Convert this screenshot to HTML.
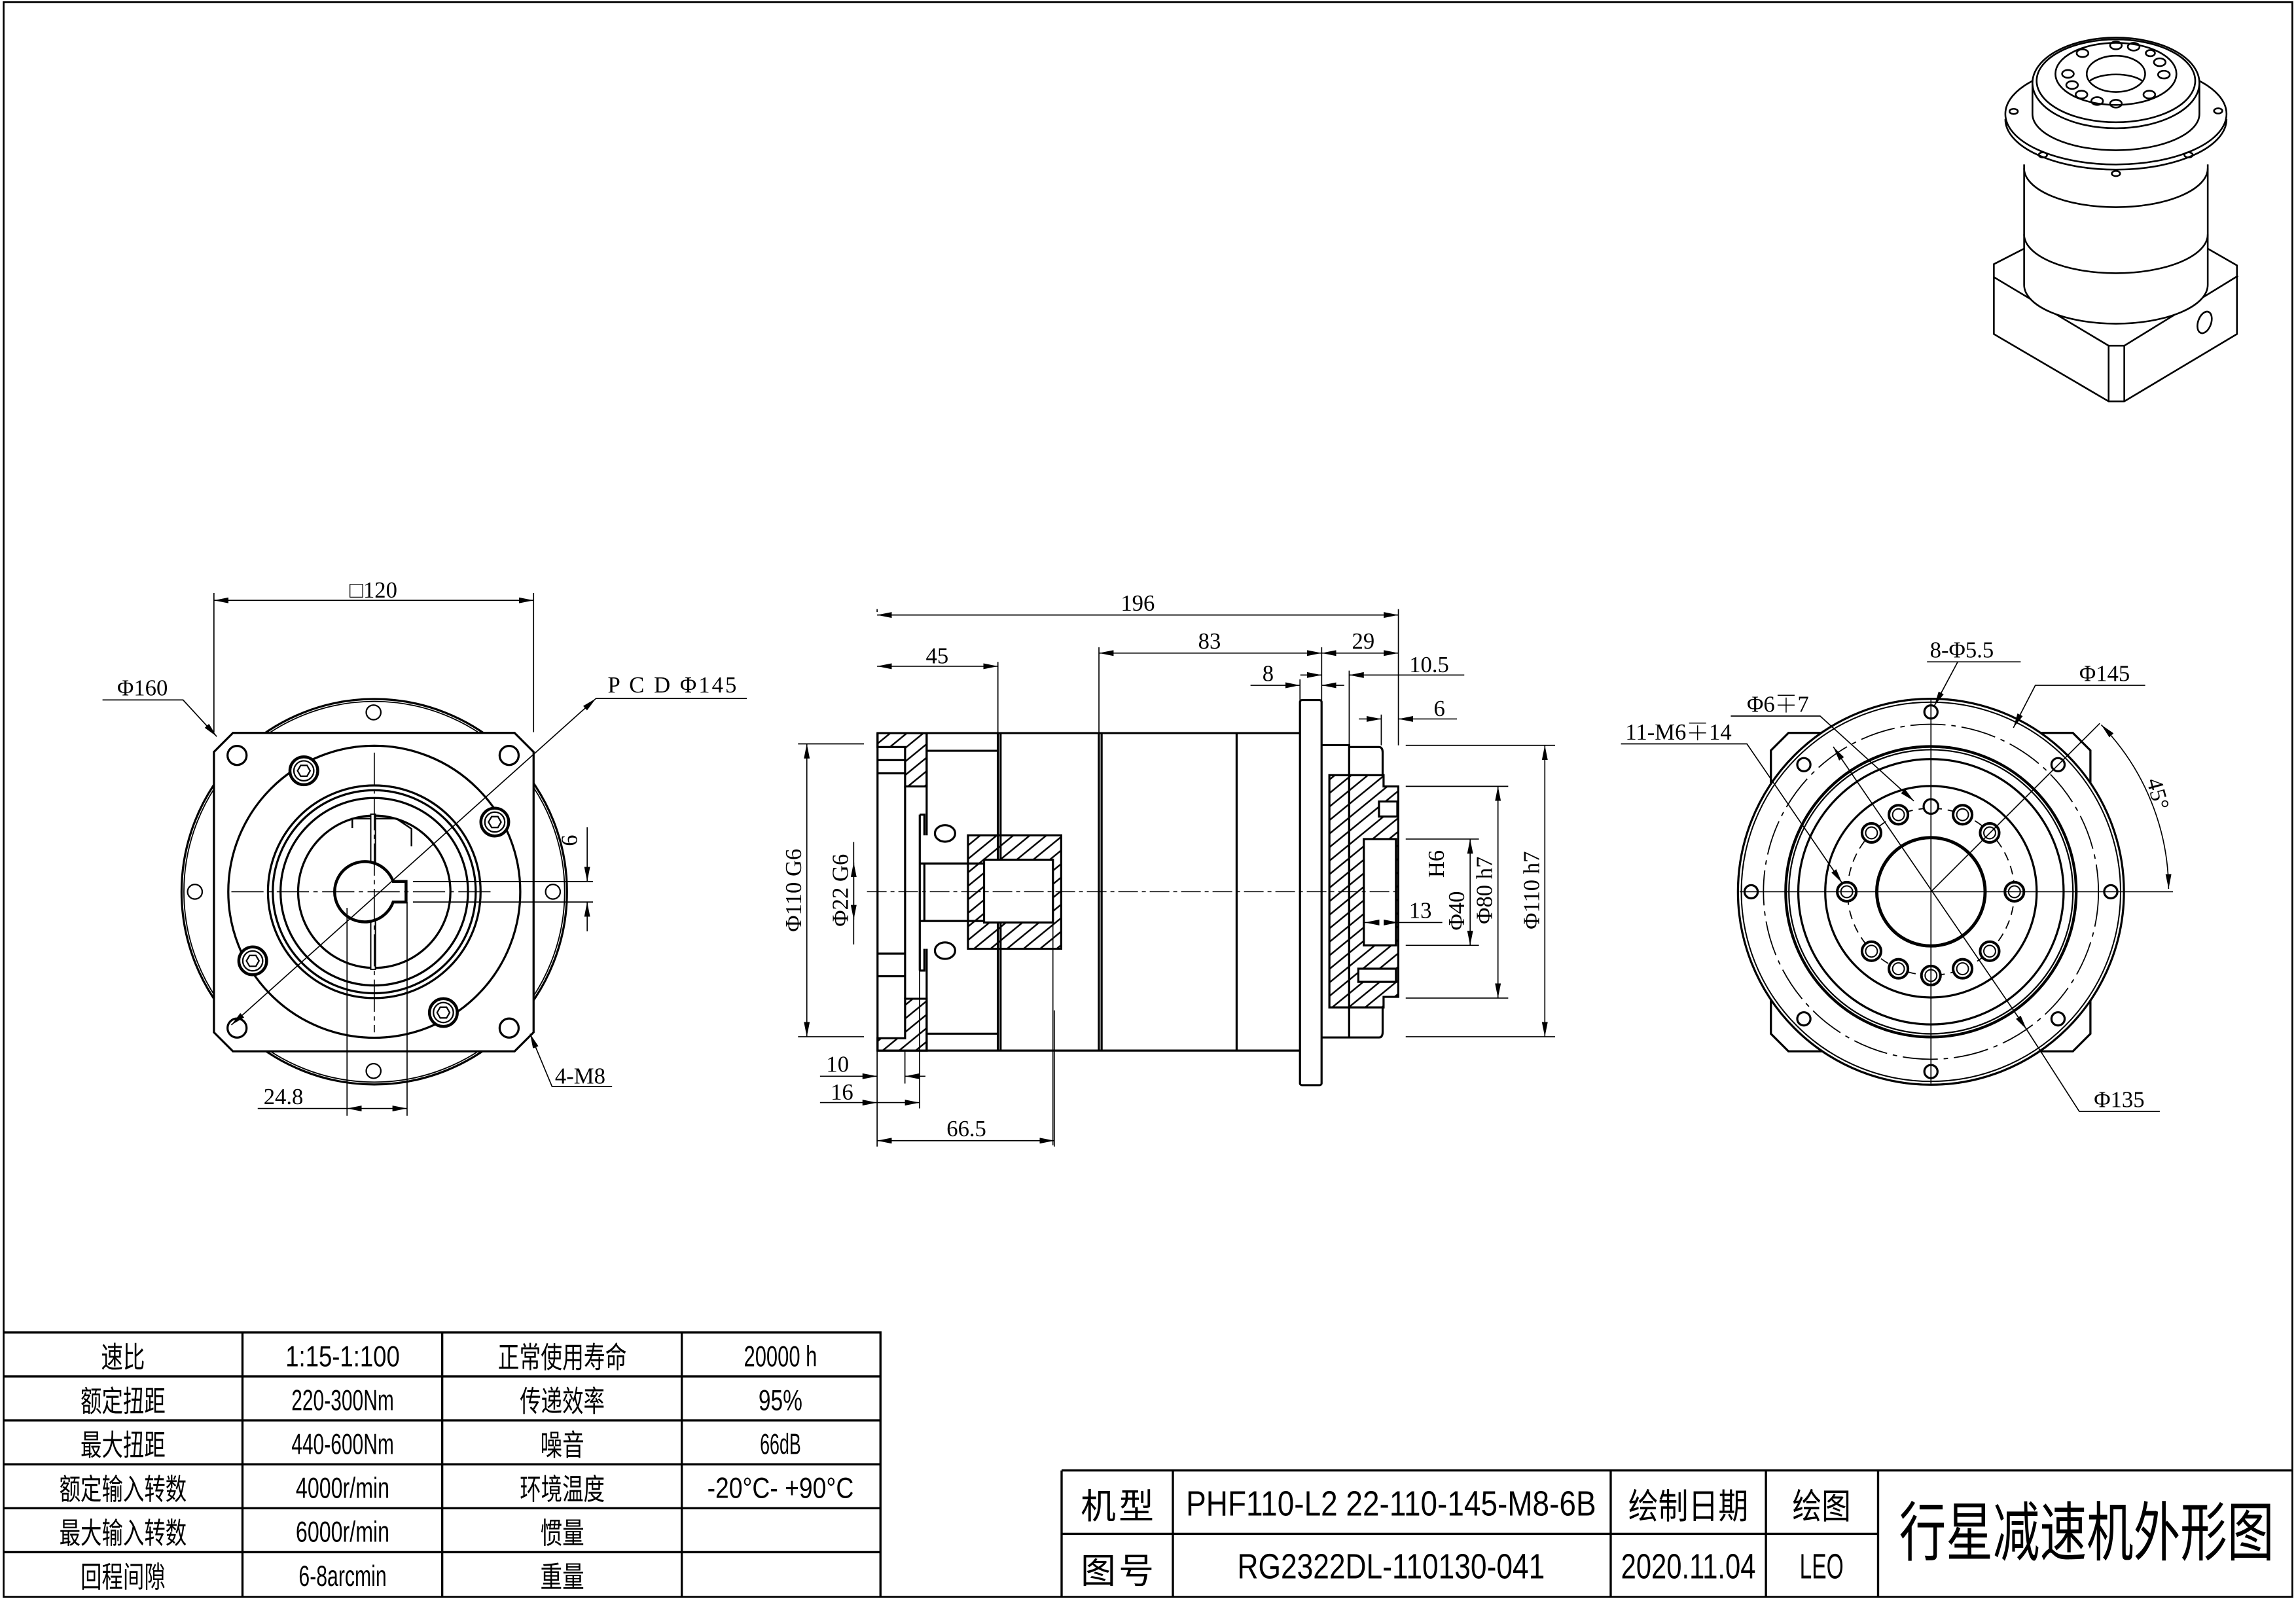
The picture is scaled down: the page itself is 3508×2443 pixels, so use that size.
<!DOCTYPE html>
<html><head><meta charset="utf-8"><style>html,body{margin:0;padding:0;background:#fff}svg{display:block}</style></head>
<body>
<svg xmlns="http://www.w3.org/2000/svg" width="3508" height="2443" viewBox="0 0 1568 1092" preserveAspectRatio="none" font-family="'Liberation Serif','Noto Serif CJK SC',serif">
<defs>
<marker id="ar" viewBox="0 0 10 4" refX="10" refY="2" markerWidth="10" markerHeight="4" markerUnits="userSpaceOnUse" orient="auto-start-reverse"><path d="M0,0L10,2L0,4Z" fill="#000"/></marker>
<pattern id="h" patternUnits="userSpaceOnUse" width="36" height="36"><path d="M-4,40L40,-4M-4,4L4,-4M32,40L40,32" stroke="#000" stroke-width="4"/></pattern>
</defs>
<rect width="1568" height="1092" fill="#fff"/>
<g fill="none" stroke="#000" stroke-width="1.1">
<path d="M2.5,1.5V1090.5H1565.5V1.5Z" stroke-width="1.2"/>

<!-- LEFT VIEW -->
<g stroke-width="1.45">
<circle cx="255.6" cy="609" r="131.6"/><circle cx="255.6" cy="609" r="130" stroke-width="0.8"/>
<path d="M159.1,500.5H351.4L364.4,513.5V705L351.4,718H159.1L146.1,705V513.5Z" fill="#fff"/>
<circle cx="255.6" cy="609" r="99.7"/>
<circle cx="255.6" cy="609" r="72.6"/><circle cx="255.6" cy="609" r="69.3"/><circle cx="255.6" cy="609" r="64"/><circle cx="255.6" cy="609" r="52"/>
<path d="M240.6,565.5V559H270.6L281,566V578" stroke-width="1.1"/>
<rect x="253.2" y="556" width="3.2" height="106" fill="#fff" stroke-width="0.9"/>
<path d="M268.5,602A20.6,20.6 0 1 0 268.5,616H277.3V602Z" fill="#fff" stroke-width="2"/>
<g fill="#fff"><circle cx="161.9" cy="515.9" r="6.5"/><circle cx="347.7" cy="515.9" r="6.5"/><circle cx="161.9" cy="702.1" r="6.5"/><circle cx="347.7" cy="702.1" r="6.5"/></g>
<g stroke-width="2" fill="#fff"><circle cx="207.5" cy="526.4" r="9.5"/><circle cx="337.9" cy="561.4" r="9.5"/><circle cx="172.6" cy="656.2" r="9.5"/><circle cx="302.8" cy="691.5" r="9.5"/></g>
<g stroke-width="1"><circle cx="207.5" cy="526.4" r="6.8"/><circle cx="337.9" cy="561.4" r="6.8"/><circle cx="172.6" cy="656.2" r="6.8"/><circle cx="302.8" cy="691.5" r="6.8"/>
<path d="M203.2,526.4l2.15,-3.7h4.3l2.15,3.7l-2.15,3.7h-4.3z"/><path d="M333.6,561.4l2.15,-3.7h4.3l2.15,3.7l-2.15,3.7h-4.3z"/><path d="M168.3,656.2l2.15,-3.7h4.3l2.15,3.7l-2.15,3.7h-4.3z"/><path d="M298.5,691.5l2.15,-3.7h4.3l2.15,3.7l-2.15,3.7h-4.3z"/></g>
<g stroke-width="1"><circle cx="255.1" cy="486.5" r="5"/><circle cx="133.1" cy="609" r="5"/><circle cx="377.6" cy="609" r="5"/><circle cx="255.1" cy="731.4" r="5"/></g>
</g>
<g stroke-width="0.75">
<path d="M158,609H335M255.6,514V705" stroke-dasharray="22,3,3,3"/>
<path d="M282,602H405M282,616H405"/>
<line x1="407" y1="477" x2="510" y2="477"/><line x1="407" y1="477" x2="158" y2="700" marker-start="url(#ar)" marker-end="url(#ar)"/>
<path d="M70,478H125L148,503" marker-end="url(#ar)"/>
<path d="M146.1,500V405M364.4,500V405"/><line x1="146.1" y1="410" x2="364.4" y2="410" marker-start="url(#ar)" marker-end="url(#ar)"/>
<line x1="401" y1="565" x2="401" y2="602" marker-end="url(#ar)"/><line x1="401" y1="636" x2="401" y2="616" marker-end="url(#ar)"/>
<path d="M362,706L377,742H418" marker-start="url(#ar)"/>
<path d="M237,620V762M278,616V762"/><line x1="237" y1="757" x2="278" y2="757" marker-start="url(#ar)" marker-end="url(#ar)"/><path d="M176,757H237"/>
</g>

<!-- MIDDLE VIEW -->
<g transform="translate(581.1,393.4) scale(0.3136,0.2566)">
<g stroke-width="3.2">
<path vector-effect="non-scaling-stroke" d="M58,418H978M58,1263H978M58,418V1263M320,418V1263M326,418V1263M540,418V1263M546,418V1263M840,418V1263"/>
<path vector-effect="non-scaling-stroke" d="M58,418H165V560H118V455H58Z" fill="url(#h)"/>
<path vector-effect="non-scaling-stroke" d="M58,1263H165V1125H118V1230H58Z" fill="url(#h)"/>
<path vector-effect="non-scaling-stroke" d="M165,418V690M165,992V1263M58,490H118M58,525H118M58,1005H118M58,1065H118M118,560V1125M150,635V1050M150,635H160V690M150,1050H160V992M165,465H320M165,1218H320"/>
<path vector-effect="non-scaling-stroke" d="M255,690H458V992H255Z" fill="url(#h)"/>
<path vector-effect="non-scaling-stroke" d="M290,755H440V922H290Z" fill="#fff"/>
<path vector-effect="non-scaling-stroke" d="M150,765H290M150,918H290M160,765V918"/>
<circle vector-effect="non-scaling-stroke" cx="205" cy="685" r="22" fill="#fff"/><circle vector-effect="non-scaling-stroke" cx="205" cy="997" r="22" fill="#fff"/>
<rect vector-effect="non-scaling-stroke" x="978" y="330" width="47" height="1025" rx="5"/>
<path vector-effect="non-scaling-stroke" d="M1025,450H1085V1228H1025M1085,455H1150Q1158,455 1158,470V530M1085,1228H1150Q1158,1228 1158,1213V1148"/>
<path vector-effect="non-scaling-stroke" d="M1042,530H1160V560H1192V1120H1160V1148H1042Z" fill="url(#h)"/>
<rect vector-effect="non-scaling-stroke" x="1117" y="700" width="70" height="283" fill="#fff"/>
<rect vector-effect="non-scaling-stroke" x="1150" y="600" width="40" height="40" fill="#fff"/>
<rect vector-effect="non-scaling-stroke" x="1105" y="1045" width="82" height="35" fill="#fff"/>
</g>
<g stroke-width="1.5">
<path vector-effect="non-scaling-stroke" d="M35,840H1190" stroke-dasharray="30,6,6,6"/>
<path vector-effect="non-scaling-stroke" d="M440,922V1515"/>
</g>
</g>

<g stroke-width="0.75">
<path d="M599,418V416M599,717V783M681.5,500V452M750.5,500V442M955,509V416M902.6,478V442M887.8,478V464M921.4,509V458M943.3,509V488M720,690V783M618,717V740M628,620V757"/>
<line x1="599" y1="420" x2="955" y2="420" marker-start="url(#ar)" marker-end="url(#ar)"/>
<line x1="599" y1="455" x2="681.5" y2="455" marker-start="url(#ar)" marker-end="url(#ar)"/>
<line x1="750.5" y1="446" x2="902.6" y2="446" marker-start="url(#ar)" marker-end="url(#ar)"/>
<line x1="902.6" y1="446" x2="955" y2="446" marker-start="url(#ar)" marker-end="url(#ar)"/>
<line x1="854" y1="468" x2="887.8" y2="468" marker-end="url(#ar)"/><line x1="918" y1="468" x2="902.6" y2="468" marker-end="url(#ar)"/>
<line x1="1000" y1="461" x2="921.4" y2="461" marker-end="url(#ar)"/><line x1="888" y1="461" x2="902.6" y2="461" marker-end="url(#ar)"/>
<line x1="928" y1="491" x2="943.3" y2="491" marker-end="url(#ar)"/><line x1="995" y1="491" x2="955" y2="491" marker-end="url(#ar)"/>
<path d="M545,508H590M545,708H590"/><line x1="551" y1="508" x2="551" y2="708" marker-start="url(#ar)" marker-end="url(#ar)"/>
<line x1="583" y1="589" x2="583" y2="628" marker-start="url(#ar)" marker-end="url(#ar)"/><path d="M583,575V645"/>
<path d="M960,509H1062M960,708H1062"/><line x1="1055" y1="509" x2="1055" y2="708" marker-start="url(#ar)" marker-end="url(#ar)"/>
<path d="M960,537H1030M960,681.6H1030"/><line x1="1023" y1="537" x2="1023" y2="681.6" marker-start="url(#ar)" marker-end="url(#ar)"/>
<path d="M960,573H1010M960,645.6H1010"/><line x1="1004" y1="573" x2="1004" y2="645.6" marker-start="url(#ar)" marker-end="url(#ar)"/>
<line x1="941" y1="630" x2="932" y2="630" marker-end="url(#ar)"/><line x1="946" y1="630" x2="955" y2="630" marker-end="url(#ar)"/><path d="M955,630H985"/>
<line x1="560" y1="735" x2="599" y2="735" marker-end="url(#ar)"/><line x1="632" y1="735" x2="618" y2="735" marker-end="url(#ar)"/>
<line x1="560" y1="753" x2="599" y2="753" marker-end="url(#ar)"/><line x1="599" y1="753" x2="628" y2="753" marker-end="url(#ar)"/>
<line x1="599" y1="779" x2="720" y2="779" marker-start="url(#ar)" marker-end="url(#ar)"/>
</g>

<!-- RIGHT VIEW -->
<g stroke-width="1.45">
<path d="M1221.4,500.5H1415.6L1427.6,512.5V706L1415.6,718H1221.4L1209.4,706V512.5Z"/>
<circle cx="1318.7" cy="609" r="131.8" fill="#fff"/><circle cx="1318.7" cy="609" r="129.5" stroke-width="0.9"/>
<circle cx="1318.7" cy="609" r="114.4" stroke-width="0.8" stroke-dasharray="24,4,3,4"/>
<circle cx="1318.7" cy="609" r="99.2" stroke-width="1.9"/><circle cx="1318.7" cy="609" r="97" stroke-width="1"/>
<circle cx="1318.7" cy="609" r="90.6"/><circle cx="1318.7" cy="609" r="72.2"/>
<circle cx="1318.7" cy="609" r="57" stroke-width="0.8" stroke-dasharray="6,4"/>
<circle cx="1318.7" cy="609" r="37" stroke-width="2.2"/>
<g fill="#fff">
<circle cx="1441.5" cy="609" r="4.5"/><circle cx="1195.9" cy="609" r="4.5"/><circle cx="1318.7" cy="486.2" r="4.5"/><circle cx="1318.7" cy="731.8" r="4.5"/>
<circle cx="1405.5" cy="522.2" r="4.5"/><circle cx="1231.9" cy="522.2" r="4.5"/><circle cx="1405.5" cy="695.8" r="4.5"/><circle cx="1231.9" cy="695.8" r="4.5"/>
<circle cx="1318.7" cy="550.8" r="5"/>
</g>
<g fill="#fff" stroke-width="1.8">
<circle cx="1340.3" cy="556.4" r="6.5"/><circle cx="1358.8" cy="568.8" r="6.5"/><circle cx="1375.7" cy="609" r="6.5"/><circle cx="1358.8" cy="649.6" r="6.5"/><circle cx="1340.3" cy="661.6" r="6.5"/><circle cx="1318.7" cy="666.2" r="6.5"/><circle cx="1296.5" cy="661.6" r="6.5"/><circle cx="1278.1" cy="649.6" r="6.5"/><circle cx="1261.2" cy="609" r="6.5"/><circle cx="1278.1" cy="568.8" r="6.5"/><circle cx="1296.5" cy="556.4" r="6.5"/>
</g>
<g stroke-width="0.9">
<circle cx="1340.3" cy="556.4" r="4"/><circle cx="1358.8" cy="568.8" r="4"/><circle cx="1375.7" cy="609" r="4"/><circle cx="1358.8" cy="649.6" r="4"/><circle cx="1340.3" cy="661.6" r="4"/><circle cx="1318.7" cy="666.2" r="4"/><circle cx="1296.5" cy="661.6" r="4"/><circle cx="1278.1" cy="649.6" r="4"/><circle cx="1261.2" cy="609" r="4"/><circle cx="1278.1" cy="568.8" r="4"/><circle cx="1296.5" cy="556.4" r="4"/>
</g>
</g>
<g stroke-width="0.75">
<path d="M1188,609H1484M1318.7,478V740M1318.7,609L1434,494"/>
<path d="M1316,452H1380M1337,452L1321,482" marker-end="url(#ar)"/>
<path d="M1465,468H1390L1375,497" marker-end="url(#ar)"/>
<path d="M1182,489H1243L1307,547" marker-end="url(#ar)"/>
<path d="M1107,508H1193L1258,603" marker-end="url(#ar)"/>
<line x1="1252" y1="510" x2="1384" y2="703" marker-start="url(#ar)" marker-end="url(#ar)"/>
<path d="M1384,703L1420,759H1475"/>
<path d="M1435,495A163,163 0 0 1 1481,607" marker-start="url(#ar)" marker-end="url(#ar)"/>
</g>

<!-- ISOMETRIC -->
<g transform="translate(1341,8.9) scale(0.1425,0.1768)" stroke-width="2.6">
<path vector-effect="non-scaling-stroke" d="M290,910L145,970V1240L695,1500H770L1310,1240V975L1170,910M145,1020L695,1285H770L1315,1015M145,970V1020M695,1285V1500M770,1285V1500"/>
<ellipse vector-effect="non-scaling-stroke" cx="1155" cy="1195" rx="30" ry="45" transform="rotate(30 1155 1195)"/>
<path vector-effect="non-scaling-stroke" d="M290,585V1050A440,150 0 0 0 1170,1050V585" fill="#fff"/>
<path vector-effect="non-scaling-stroke" d="M290,600A440,150 0 0 0 1170,600M290,855A440,150 0 0 0 1170,855"/>
<ellipse vector-effect="non-scaling-stroke" cx="730" cy="390" rx="530" ry="195" fill="#fff"/>
<path vector-effect="non-scaling-stroke" d="M200,410A530,195 0 0 0 1260,410"/>
<path vector-effect="non-scaling-stroke" d="M330,390A400,140 0 0 0 1130,390M330,270V390M1130,270V390"/>
<ellipse vector-effect="non-scaling-stroke" cx="730" cy="270" rx="400" ry="175" fill="#fff"/>
<ellipse vector-effect="non-scaling-stroke" cx="730" cy="262" rx="380" ry="160"/>
<ellipse vector-effect="non-scaling-stroke" cx="730" cy="235" rx="290" ry="120"/>
<ellipse vector-effect="non-scaling-stroke" cx="730" cy="235" rx="140" ry="70"/>
<path vector-effect="non-scaling-stroke" d="M605,262A140,45 0 0 1 855,262"/>
<g>
<ellipse vector-effect="non-scaling-stroke" cx="730" cy="125" rx="28" ry="15"/><ellipse vector-effect="non-scaling-stroke" cx="815" cy="130" rx="28" ry="15"/><ellipse vector-effect="non-scaling-stroke" cx="895" cy="155" rx="22" ry="12"/><ellipse vector-effect="non-scaling-stroke" cx="940" cy="190" rx="28" ry="15"/><ellipse vector-effect="non-scaling-stroke" cx="960" cy="238" rx="28" ry="15"/><ellipse vector-effect="non-scaling-stroke" cx="890" cy="315" rx="28" ry="15"/><ellipse vector-effect="non-scaling-stroke" cx="730" cy="350" rx="28" ry="15"/><ellipse vector-effect="non-scaling-stroke" cx="640" cy="340" rx="28" ry="15"/><ellipse vector-effect="non-scaling-stroke" cx="565" cy="315" rx="28" ry="15"/><ellipse vector-effect="non-scaling-stroke" cx="520" cy="278" rx="28" ry="15"/><ellipse vector-effect="non-scaling-stroke" cx="500" cy="235" rx="28" ry="15"/><ellipse vector-effect="non-scaling-stroke" cx="570" cy="155" rx="28" ry="15"/>
<ellipse vector-effect="non-scaling-stroke" cx="240" cy="380" rx="20" ry="10"/><ellipse vector-effect="non-scaling-stroke" cx="1220" cy="378" rx="20" ry="10"/><ellipse vector-effect="non-scaling-stroke" cx="380" cy="548" rx="20" ry="10"/><ellipse vector-effect="non-scaling-stroke" cx="1078" cy="548" rx="20" ry="10"/><ellipse vector-effect="non-scaling-stroke" cx="730" cy="620" rx="20" ry="10"/>
</g>
</g>

<!-- TABLES -->
<g stroke-width="1.5">
<path d="M2.5,910H601.3V1090M2.5,940H601.3M2.5,970H601.3M2.5,1000H601.3M2.5,1030H601.3M2.5,1060H601.3M165.6,910V1090M302,910V1090M465.6,910V1090"/>
<path d="M725,1004.2H1565M725,1047.5H1282.6M725,1004.2V1090.6M801,1004.2V1090.6M1100,1004.2V1090.6M1206,1004.2V1090.6M1282.6,1004.2V1090.6"/>
</g>
</g>

<!-- TEXT -->
<g font-size="15.5" fill="#000">
<text x="255" y="408" text-anchor="middle">□120</text>
<text x="80" y="475">Φ160</text>
<text x="415" y="473" textLength="88" lengthAdjust="spacing">P C D Φ145</text>
<text x="394" y="574" transform="rotate(-90 394 574)" text-anchor="middle">6</text>
<text x="180" y="754">24.8</text>
<text x="379" y="740">4-M8</text>
<text x="777" y="417" text-anchor="middle">196</text>
<text x="640" y="453" text-anchor="middle">45</text>
<text x="826" y="443" text-anchor="middle">83</text>
<text x="931" y="443" text-anchor="middle">29</text>
<text x="866" y="465" text-anchor="middle">8</text>
<text x="976" y="459" text-anchor="middle">10.5</text>
<text x="983" y="489" text-anchor="middle">6</text>
<text x="970" y="627" text-anchor="middle">13</text>
<text x="572" y="732" text-anchor="middle">10</text>
<text x="575" y="751" text-anchor="middle">16</text>
<text x="660" y="776" text-anchor="middle">66.5</text>
<text x="547" y="608" transform="rotate(-90 547 608)" text-anchor="middle">Φ110 G6</text>
<text x="579" y="608" transform="rotate(-90 579 608)" text-anchor="middle">Φ22 G6</text>
<text x="1051" y="608" transform="rotate(-90 1051 608)" text-anchor="middle">Φ110 h7</text>
<text x="1019" y="608" transform="rotate(-90 1019 608)" text-anchor="middle">Φ80 h7</text>
<text x="1000" y="622" transform="rotate(-90 1000 622)" text-anchor="middle">Φ40</text>
<text x="986" y="590" transform="rotate(-90 986 590)" text-anchor="middle">H6</text>
<text x="1318" y="449">8-Φ5.5</text>
<text x="1420" y="465">Φ145</text>
<text x="1193" y="486">Φ6∓7</text>
<text x="1110" y="505">11-M6∓14</text>
<text x="1430" y="756">Φ135</text>
<text x="1466" y="533" transform="rotate(75 1466 533)">45°</text>
</g>
<g font-family="'Liberation Sans','Noto Sans CJK SC',sans-serif" font-size="20" text-anchor="middle" fill="#000">
<text x="84" y="934" textLength="30" lengthAdjust="spacingAndGlyphs">速比</text>
<text x="84" y="964" textLength="58" lengthAdjust="spacingAndGlyphs">额定扭距</text>
<text x="84" y="994" textLength="58" lengthAdjust="spacingAndGlyphs">最大扭距</text>
<text x="84" y="1024" textLength="87" lengthAdjust="spacingAndGlyphs">额定输入转数</text>
<text x="84" y="1054" textLength="87" lengthAdjust="spacingAndGlyphs">最大输入转数</text>
<text x="84" y="1084" textLength="58" lengthAdjust="spacingAndGlyphs">回程间隙</text>
<text x="234" y="933" textLength="78" lengthAdjust="spacingAndGlyphs">1:15-1:100</text>
<text x="234" y="963" textLength="70" lengthAdjust="spacingAndGlyphs">220-300Nm</text>
<text x="234" y="993" textLength="70" lengthAdjust="spacingAndGlyphs">440-600Nm</text>
<text x="234" y="1023" textLength="64" lengthAdjust="spacingAndGlyphs">4000r/min</text>
<text x="234" y="1053" textLength="64" lengthAdjust="spacingAndGlyphs">6000r/min</text>
<text x="234" y="1083" textLength="60" lengthAdjust="spacingAndGlyphs">6-8arcmin</text>
<text x="384" y="934" textLength="88" lengthAdjust="spacingAndGlyphs">正常使用寿命</text>
<text x="384" y="964" textLength="58" lengthAdjust="spacingAndGlyphs">传递效率</text>
<text x="384" y="994" textLength="30" lengthAdjust="spacingAndGlyphs">噪音</text>
<text x="384" y="1024" textLength="58" lengthAdjust="spacingAndGlyphs">环境温度</text>
<text x="384" y="1054" textLength="30" lengthAdjust="spacingAndGlyphs">惯量</text>
<text x="384" y="1084" textLength="30" lengthAdjust="spacingAndGlyphs">重量</text>
<text x="533" y="933" textLength="50" lengthAdjust="spacingAndGlyphs">20000 h</text>
<text x="533" y="963" textLength="30" lengthAdjust="spacingAndGlyphs">95%</text>
<text x="533" y="993" textLength="28" lengthAdjust="spacingAndGlyphs">66dB</text>
<text x="533" y="1023" textLength="100" lengthAdjust="spacingAndGlyphs">-20°C- +90°C</text>
</g>
<g font-family="'Liberation Sans','Noto Sans CJK SC',sans-serif" font-size="24" text-anchor="middle" fill="#000">
<text x="763" y="1037" textLength="50" lengthAdjust="spacing">机 型</text>
<text x="763" y="1081" textLength="50" lengthAdjust="spacing">图 号</text>
<text x="950" y="1035" textLength="280" lengthAdjust="spacingAndGlyphs">PHF110-L2 22-110-145-M8-6B</text>
<text x="950" y="1078" textLength="210" lengthAdjust="spacingAndGlyphs">RG2322DL-110130-041</text>
<text x="1153" y="1037" textLength="82" lengthAdjust="spacingAndGlyphs">绘制日期</text>
<text x="1153" y="1078" textLength="92" lengthAdjust="spacingAndGlyphs">2020.11.04</text>
<text x="1244" y="1037" textLength="40" lengthAdjust="spacingAndGlyphs">绘图</text>
<text x="1244" y="1078" textLength="30" lengthAdjust="spacingAndGlyphs">LEO</text>
<text x="1425" y="1062" font-size="44" textLength="256" lengthAdjust="spacingAndGlyphs">行星减速机外形图</text>
</g>
</svg>
</body></html>
